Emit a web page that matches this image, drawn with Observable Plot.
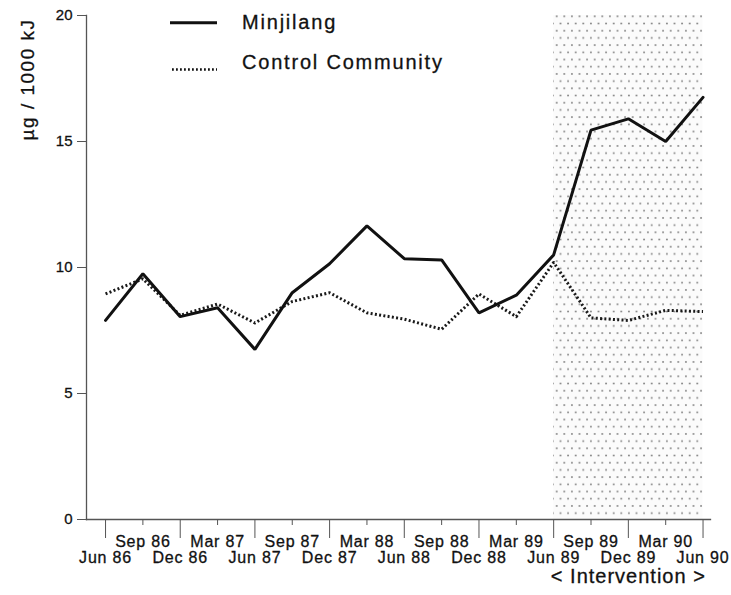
<!DOCTYPE html>
<html>
<head>
<meta charset="utf-8">
<script src="https://cdn.jsdelivr.net/npm/d3@7"></script>
<script src="https://cdn.jsdelivr.net/npm/@observablehq/plot@0.6"></script>
<style>
  html, body { margin: 0; padding: 0; background: #fff; }
  #chart { position: relative; width: 731px; height: 595px; font-family: "Liberation Sans", Arial, Helvetica, sans-serif; }
  #chart svg { display: block; }
  #chart svg text { stroke: #111; stroke-width: 0.3px; }
  #legend { position: absolute; left: 0; top: 0; pointer-events: none; }
  g[aria-label="x-axis tick label"] text { letter-spacing: 0.8px; }
</style>
</head>
<body>
<div id="chart"></div>
<script>
// Quarterly survey points
const quarters = ["Jun 86", "Sep 86", "Dec 86", "Mar 87", "Jun 87", "Sep 87", "Dec 87", "Mar 88",
  "Jun 88", "Sep 88", "Dec 88", "Mar 89", "Jun 89", "Sep 89", "Dec 89", "Mar 90", "Jun 90"];

// µg per 1000 kJ
const minjilang = [7.9, 9.75, 8.05, 8.4, 6.75, 9.0, 10.15, 11.65, 10.35, 10.3, 8.2, 8.9, 10.5, 15.45, 15.9, 15.0, 16.75];
const control   = [8.95, 9.55, 8.1, 8.55, 7.8, 8.65, 9.0, 8.2, 7.95, 7.55, 8.95, 8.05, 10.2, 8.0, 7.9, 8.3, 8.25];

const yTicks = [0, 5, 10, 15, 20];
const seriesNames = ["Minjilang", "Control Community"];
const yLabel = "µg / 1000 kJ";
const interventionLabel = "< Intervention >";
const interventionStart = "Jun 89";
const interventionEnd = "Jun 90";

const rows = quarters.map((q, i) => ({ i, q, minjilang: minjilang[i], control: control[i] }));
const i0 = quarters.indexOf(interventionStart);
const i1 = quarters.indexOf(interventionEnd);
const majorIdx = quarters.map((_, i) => i).filter(i => i % 2 === 0); // Jun / Dec, lower row
const minorIdx = quarters.map((_, i) => i).filter(i => i % 2 === 1); // Sep / Mar, upper row
const axisGray = "#555";
const dotted = "2 2.3";

const plot = Plot.plot({
  width: 731,
  height: 595,
  marginLeft: 86,
  marginRight: 21,
  marginTop: 15,
  marginBottom: 76,
  style: { fontFamily: '"Liberation Sans", Arial, Helvetica, sans-serif', fontSize: "16px", background: "#fff", color: "#111", overflow: "visible" },
  x: { type: "linear", domain: [-0.51, quarters.length - 1 + 0.2] },
  y: { domain: [yTicks[0], yTicks[yTicks.length - 1]] },
  marks: [
    // intervention period, stippled
    Plot.rect([{ x1: i0, x2: i1 }], { x1: "x1", x2: "x2", fill: "url(#interventionDots)" }),
    Plot.frame({ anchor: "left", stroke: axisGray, strokeWidth: 1.3 }),
    Plot.frame({ anchor: "bottom", stroke: axisGray, strokeWidth: 1.3 }),
    Plot.axisY({ ticks: yTicks, tickSize: 9, tickPadding: 5, fontSize: 15, stroke: axisGray, label: null }),
    Plot.axisX({ ticks: minorIdx, tickSize: 6, tickPadding: 10.5, tickFormat: i => quarters[i], fontSize: 16, stroke: axisGray, label: null }),
    Plot.axisX({ ticks: majorIdx, tickSize: 19, tickPadding: 13.5, tickFormat: i => quarters[i], fontSize: 16, stroke: axisGray, label: null }),
    Plot.text([yLabel], { frameAnchor: "top-left", rotate: -90, textAnchor: "end", dx: -66, dy: 3, fontSize: 19, fill: "#111" }),
    Plot.text([interventionLabel], { x: (i0 + i1) / 2, frameAnchor: "bottom", lineAnchor: "top", dy: 49.5, fontSize: 20, fill: "#111" }),
    Plot.line(rows, { x: "i", y: "control", stroke: "#1a1a1a", strokeWidth: 3, strokeDasharray: dotted, strokeLinecap: "butt" }),
    Plot.line(rows, { x: "i", y: "minjilang", stroke: "#111", strokeWidth: 3, strokeLinejoin: "miter" })
  ]
});

const svg = d3.select(plot);

// the control series is the first line mark; make sure its dash pattern is on the path itself
svg.selectAll('g[aria-label="line"]').filter((d, k) => k === 0).selectAll("path")
  .attr("stroke-dasharray", dotted)
  .attr("stroke-linecap", "butt");

// stipple pattern for the intervention band
const defs = svg.insert("defs", ":first-child");
const pat = defs.append("pattern")
  .attr("id", "interventionDots")
  .attr("patternUnits", "userSpaceOnUse")
  .attr("width", 7.6)
  .attr("height", 14.4);
pat.append("rect").attr("width", 7.6).attr("height", 14.4).attr("fill", "#fbfbfb");
pat.append("circle").attr("cx", 1.9).attr("cy", 2).attr("r", 0.95).attr("fill", "#808080");
pat.append("circle").attr("cx", 5.7).attr("cy", 9.2).attr("r", 0.95).attr("fill", "#808080");

svg.selectAll("text").filter(function () { return this.textContent === yLabel; }).style("letter-spacing", "1.5px");
svg.selectAll("text").filter(function () { return this.textContent === interventionLabel; }).style("letter-spacing", "1px");

const chart = document.getElementById("chart");
chart.appendChild(plot);

// legend drawn over the top of the plot area
const legend = d3.select(chart).append("svg")
  .attr("id", "legend")
  .attr("width", 731)
  .attr("height", 90);
const styles = [
  { dash: null, width: 3, x0: 170, x1: 217, ly: 22.7, ty: 28.5 },
  { dash: "1.8 2.2", width: 2.4, x0: 172, x1: 217, ly: 69.5, ty: 68.5 }
];
seriesNames.forEach((name, k) => {
  const s = styles[k];
  legend.append("line")
    .attr("x1", s.x0).attr("x2", s.x1).attr("y1", s.ly).attr("y2", s.ly)
    .attr("stroke", "#111").attr("stroke-width", s.width)
    .attr("stroke-dasharray", s.dash);
  legend.append("text")
    .attr("x", 242).attr("y", s.ty)
    .attr("font-size", 20)
    .attr("fill", "#111")
    .style("letter-spacing", "1.8px")
    .attr("font-family", '"Liberation Sans", Arial, Helvetica, sans-serif')
    .text(name);
});
</script>
</body>
</html>
